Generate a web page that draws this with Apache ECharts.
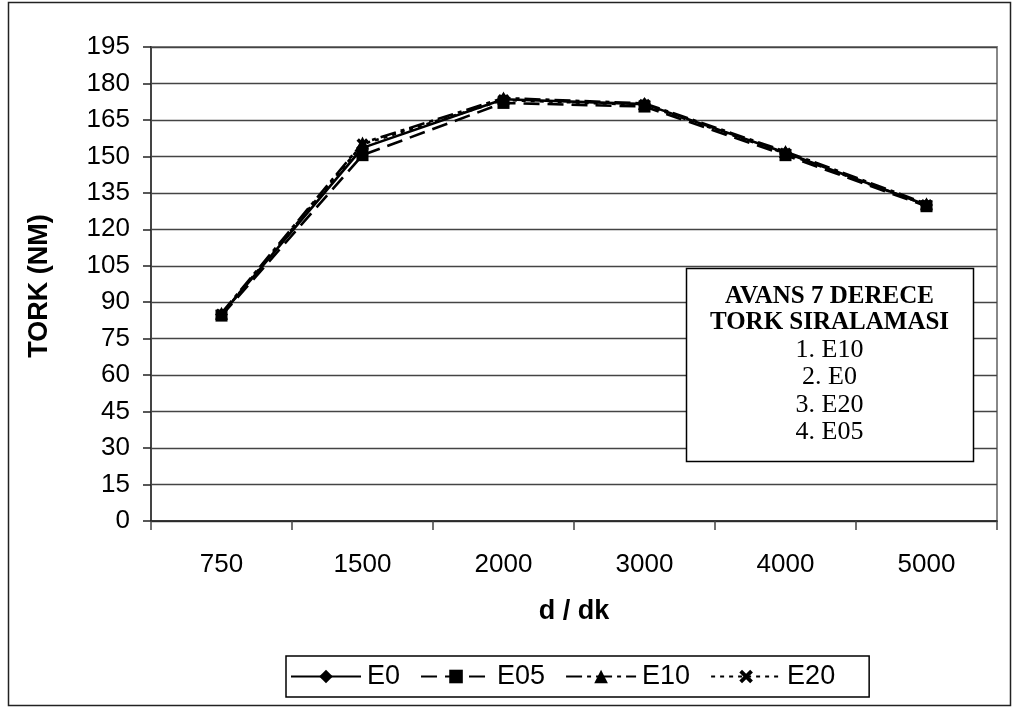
<!DOCTYPE html>
<html>
<head>
<meta charset="utf-8">
<script src="https://cdn.jsdelivr.net/npm/echarts@6/dist/echarts.min.js"></script>
<style>
  html, body { margin: 0; padding: 0; background: #fff; }
  #chart { width: 1015px; height: 708px; }
</style>
</head>
<body>
<div id="chart"></div>
<script>
// Engine speed (d/dk) categories
const speeds = ['750', '1500', '2000', '3000', '4000', '5000'];

// Torque (Nm) per fuel blend
const e0  = [85.0, 153.5, 173.5, 171.5, 151.5, 130.0];
const e05 = [84.5, 150.5, 172.0, 170.5, 150.5, 129.5];
const e10 = [85.5, 155.5, 174.0, 171.8, 152.0, 130.5];
const e20 = [85.0, 155.0, 173.2, 171.2, 151.2, 130.0];

// Torque ranking box text
const boxTitle = ['AVANS 7 DERECE', 'TORK SIRALAMASI'];
const ranking = ['1. E10', '2. E0', '3. E20', '4. E05'];

const crossPath = 'path://M2,0 L5,3 L8,0 L10,2 L7,5 L10,8 L8,10 L5,7 L2,10 L0,8 L3,5 L0,2 Z';

function lineSeries(name, data, symbol, dash, size) {
  return {
    name: name,
    type: 'line',
    data: data,
    symbol: symbol,
    symbolSize: size,
    showAllSymbol: true,
    lineStyle: { color: '#000', width: 2.6, type: dash },
    itemStyle: { color: '#000', borderWidth: 0 },
    emphasis: { disabled: true },
    animation: false
  };
}

const chart = echarts.init(document.getElementById('chart'), null, { renderer: 'canvas' });

const sansBold = 'bold 27px "Liberation Sans", Arial, sans-serif';
const boxLeft = 686, boxTop = 268, boxW = 287, boxH = 193;
const boxCx = boxLeft + boxW / 2;
const graphics = [
  { type: 'rect', shape: { x: 8.5, y: 2.5, width: 1002, height: 703 },
    style: { fill: null, stroke: '#222', lineWidth: 1.5 }, silent: true, z: 0 },
  { type: 'text', x: 40, y: 286, rotation: Math.PI / 2,
    style: { text: 'TORK (NM)', font: sansBold,
      fill: '#000', align: 'center', verticalAlign: 'middle' } },
  { type: 'text', x: 574, y: 612,
    style: { text: 'd / dk', font: sansBold,
      fill: '#000', align: 'center', verticalAlign: 'middle' } },
  { type: 'rect', shape: { x: boxLeft + 0.5, y: boxTop + 0.5, width: boxW, height: boxH },
    style: { fill: '#fff', stroke: '#000', lineWidth: 1.5 }, z: 10 }
];
const titleY = [297, 323];
boxTitle.forEach((t, i) => graphics.push({
  type: 'text', x: boxCx, y: titleY[i], z: 11,
  style: { text: t, font: 'bold 25px "Liberation Serif", "Times New Roman", serif',
    fill: '#000', align: 'center', verticalAlign: 'middle' }
}));
const rankY = [350, 377, 405, 432];
ranking.forEach((t, i) => graphics.push({
  type: 'text', x: boxCx, y: rankY[i], z: 11,
  style: { text: t, font: '26px "Liberation Serif", "Times New Roman", serif',
    fill: '#000', align: 'center', verticalAlign: 'middle' }
}));

chart.setOption({
  animation: false,
  backgroundColor: '#fff',
  textStyle: { fontFamily: '"Liberation Sans", Arial, sans-serif' },
  grid: {
    left: 151, top: 47, right: 18, bottom: 187,
    show: true, borderColor: '#888', borderWidth: 2, backgroundColor: 'transparent'
  },
  xAxis: {
    type: 'category',
    data: speeds,
    boundaryGap: true,
    axisLine: { lineStyle: { color: '#222', width: 1.5 } },
    axisTick: { show: true, length: 9, lineStyle: { color: '#444', width: 1.5 } },
    axisLabel: { color: '#000', fontSize: 26, margin: 31 },
    splitLine: { show: false }
  },
  yAxis: {
    type: 'value',
    min: 0, max: 195, interval: 15,
    axisLine: { show: true, lineStyle: { color: '#444', width: 2 } },
    axisTick: { show: true, length: 8, lineStyle: { color: '#222', width: 1.5 } },
    axisLabel: { color: '#000', fontSize: 26, margin: 21 },
    splitLine: { show: true, lineStyle: { color: '#444', width: 1.3 } }
  },
  legend: {
    left: 286, top: 656,
    orient: 'horizontal',
    itemWidth: 70, itemHeight: 17, itemGap: 20,
    padding: [7, 34, 7, 4],
    borderColor: '#000', borderWidth: 1.5,
    backgroundColor: '#fff',
    textStyle: { color: '#000', fontSize: 27, padding: [0, 0, 0, 1] },
    selectedMode: false,
    data: ['E0', 'E05', 'E10', 'E20']
  },
  series: [
    lineSeries('E0', e0, 'diamond', 'solid', 13),
    lineSeries('E05', e05, 'rect', [16, 8], 12),
    lineSeries('E10', e10, 'triangle', [16, 5, 4, 5], 13),
    lineSeries('E20', e20, crossPath, [4, 5], 12)
  ],
  graphic: graphics
});
</script>
</body>
</html>
